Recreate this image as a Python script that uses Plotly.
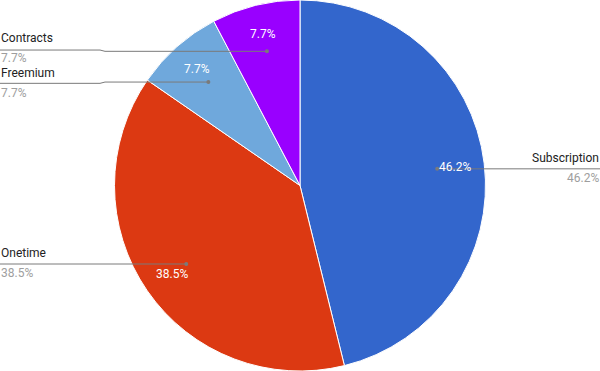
import math
import plotly.graph_objects as go

labels = ["Subscription", "Onetime", "Freemium", "Contracts"]
values = [6, 5, 1, 1]
colors = ["#3366cc", "#dc3912", "#6fa8dc", "#9900ff"]

W, H = 600, 371
cx, cy, R = W / 2, H / 2, H / 2
FONT = "Roboto, Arial, sans-serif"
GAP = 35  # min vertical spacing between outside label groups

fig = go.Figure(go.Pie(
    labels=labels, values=values, sort=False, direction="clockwise", rotation=0,
    marker=dict(colors=colors, line=dict(color="white", width=1)),
    textinfo="none", showlegend=False, hoverinfo="label+percent",
    domain=dict(x=[0, 1], y=[0, 1]),
))

def px(x):
    return x / W

def py(y):
    return 1 - y / H

total = sum(values)
start = 0.0
items = []
for lab, v in zip(labels, values):
    frac = v / total
    mid = (start + frac / 2) * 2 * math.pi
    start += frac
    s, c = math.sin(mid), math.cos(mid)
    items.append(dict(lab=lab, pct=f"{frac * 100:.1f}%", s=s, c=c,
                      dx=cx + 0.745 * R * s, dy=cy - 0.745 * R * c,
                      tx=cx + 0.84 * R * s, ty=cy - 0.84 * R * c))

# simple collision avoidance for outside labels on each side
for side in (True, False):
    grp = sorted([it for it in items if (it["s"] > 0) == side], key=lambda it: it["dy"])
    for it in grp:
        it["ly"] = it["dy"]
    for a, b in zip(grp, grp[1:]):
        if b["ly"] - a["ly"] < GAP:
            push = (GAP - (b["ly"] - a["ly"])) / 2
            a["ly"] -= push
            b["ly"] += push

shapes, annotations = [], []
for it in items:
    annotations.append(dict(x=px(it["tx"]), y=py(it["ty"]), xref="paper", yref="paper",
                            text=it["pct"], xanchor="center", yanchor="middle", showarrow=False,
                            font=dict(color="white", size=12, family=FONT)))
    dx, dy, ly = it["dx"], it["dy"], it["ly"]
    right = it["s"] > 0
    edge = W if right else 0
    jog = W - 105 if right else 105
    step = -5 if right else 5
    lly = ly + (dy - ly) * 0.4
    path = (f"M {px(dx)} {py(dy)} L {px(jog)} {py(dy)} "
            f"L {px(jog - step)} {py(lly)} L {px(edge)} {py(lly)}")
    shapes.append(dict(type="path", xref="paper", yref="paper", path=path,
                       line=dict(color="#7a7a7a", width=1)))
    shapes.append(dict(type="circle", xref="paper", yref="paper", x0=px(dx - 2), x1=px(dx + 2),
                       y0=py(dy - 2), y1=py(dy + 2), fillcolor="#7a7a7a", line=dict(width=0)))
    anchor = "right" if right else "left"
    annotations.append(dict(x=px(edge), y=py(ly - 11), xref="paper", yref="paper", text=it["lab"],
                            xanchor=anchor, yanchor="middle", showarrow=False, borderpad=0,
                            font=dict(color="#222222", size=12, family=FONT)))
    annotations.append(dict(x=px(edge), y=py(ly + 9), xref="paper", yref="paper", text=it["pct"],
                            xanchor=anchor, yanchor="middle", showarrow=False, borderpad=0,
                            font=dict(color="#9e9e9e", size=12, family=FONT)))

fig.update_layout(width=W, height=H, margin=dict(l=0, r=0, t=0, b=0),
                  paper_bgcolor="white", plot_bgcolor="white",
                  shapes=shapes, annotations=annotations)
fig.write_html("out.html", config={"displayModeBar": False},
               post_script="document.body.style.margin='0';document.body.style.overflow='hidden';")
